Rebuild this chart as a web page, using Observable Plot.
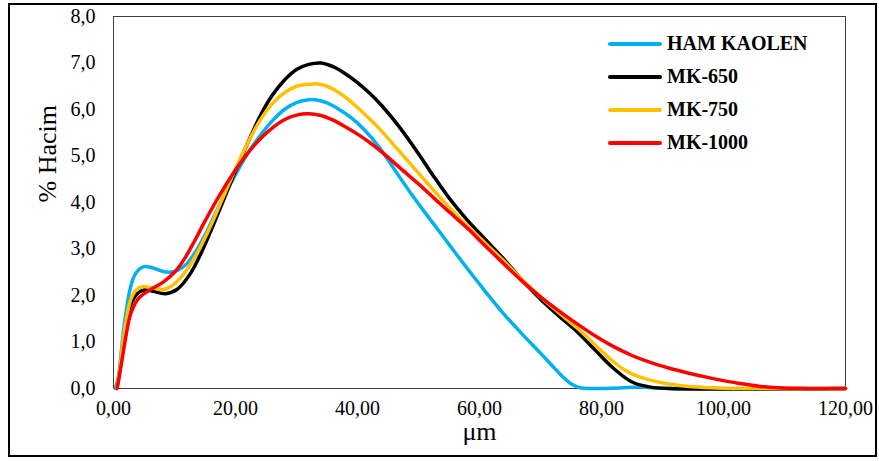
<!DOCTYPE html>
<html><head><meta charset="utf-8">
<script src="https://cdn.jsdelivr.net/npm/d3@7"></script>
<script src="https://cdn.jsdelivr.net/npm/@observablehq/plot@0.6"></script>
<style>
body{margin:0;background:#fff;}
#wrap{position:relative;width:879px;height:461px;font-family:"Liberation Serif","Times New Roman",serif;}
#box{position:absolute;left:8px;top:3px;width:865px;height:450px;border:2.5px solid #000;pointer-events:none;}
#legend{position:absolute;left:608px;top:27px;}
.row{display:flex;align-items:center;height:33px;}
.sw{width:54px;height:4px;border-radius:2px;margin-right:5px;}
.lab{font-weight:bold;font-size:20px;color:#000;font-family:"Liberation Serif","Times New Roman",serif;}
</style></head>
<body>
<div id="wrap"><div id="chart"></div><div id="legend"></div><div id="box"></div></div>
<script>
const seriesNames = ["HAM KAOLEN", "MK-650", "MK-750", "MK-1000"];
const seriesColors = ["#00B0F0", "#000000", "#FFC000", "#FF0000"];
const xTicks = [0, 20, 40, 60, 80, 100, 120];
const yTicks = [0, 1, 2, 3, 4, 5, 6, 7, 8];
const xLabel = "μm";
const yLabel = "% Hacim";

const hamX = [0.3, 0.8, 1.2, 1.7, 2.3, 2.8, 3.6, 5, 6.5, 8, 9.2, 10.5, 12, 13.5, 15, 17.5, 20, 22, 24, 26, 28, 30, 32, 33.5, 35, 37, 39, 41, 43.5, 46, 49, 52, 55, 58, 61, 64, 67, 70, 72, 73.5, 75, 76.5, 78, 83, 86, 89, 92, 120];
const hamY = [0, 0.25, 0.7, 1.3, 1.85, 2.18, 2.47, 2.62, 2.59, 2.52, 2.5, 2.54, 2.68, 2.95, 3.3, 3.98, 4.6, 5.05, 5.43, 5.75, 6.0, 6.15, 6.21, 6.2, 6.14, 6.0, 5.82, 5.58, 5.2, 4.72, 4.15, 3.62, 3.1, 2.58, 2.08, 1.6, 1.17, 0.76, 0.48, 0.27, 0.1, 0.015, 0, 0.01, 0.03, 0.01, 0, 0];

const mk650X = [0.5, 1, 1.5, 2, 2.8, 3.9, 5, 6.5, 8.5, 10.4, 12.6, 14.8, 17, 18.5, 20, 22, 24, 26, 28, 30, 32, 34, 36, 38, 40, 42, 44, 47, 50, 52.5, 55, 58, 61, 64, 67, 70, 73, 76, 79, 82, 85, 88, 91, 120];
const mk650Y = [0, 0.35, 0.85, 1.3, 1.8, 2.04, 2.12, 2.09, 2.04, 2.13, 2.47, 3.04, 3.72, 4.2, 4.68, 5.28, 5.85, 6.3, 6.63, 6.86, 6.97, 7.0, 6.92, 6.77, 6.58, 6.35, 6.08, 5.6, 5.05, 4.56, 4.1, 3.62, 3.2, 2.78, 2.33, 1.92, 1.56, 1.22, 0.82, 0.43, 0.14, 0.03, 0, 0];

const mk750X = [0.5, 1, 1.5, 2, 2.8, 3.7, 4.7, 6.5, 8.25, 10, 12, 14, 16, 18, 20, 22, 24, 26, 28, 30, 32, 33.5, 35, 37, 39, 41, 43.5, 47, 50, 52.5, 55, 58, 61, 64, 67, 70, 73, 76, 79, 82, 84, 86, 90, 94, 98, 102, 120];
const mk750Y = [0, 0.4, 0.95, 1.4, 1.9, 2.12, 2.19, 2.16, 2.13, 2.25, 2.55, 2.98, 3.52, 4.12, 4.72, 5.28, 5.76, 6.12, 6.36, 6.5, 6.54, 6.55, 6.5, 6.36, 6.16, 5.92, 5.6, 5.08, 4.63, 4.26, 3.9, 3.5, 3.12, 2.74, 2.34, 1.97, 1.63, 1.3, 0.93, 0.57, 0.38, 0.26, 0.12, 0.05, 0.015, 0, 0];

const mk1000X = [0.6, 1, 1.5, 2, 2.8, 4, 5, 6.5, 8.25, 10, 11.5, 13.2, 15, 17.5, 20, 22, 24, 26, 28, 30, 32, 34, 36, 38, 40, 42, 44.5, 47, 50, 52.5, 55, 58, 61, 64, 67, 70, 73, 76, 79, 82, 85, 88, 91, 94, 97, 100, 103, 106, 109, 112, 115, 120];
const mk1000Y = [0, 0.3, 0.7, 1.1, 1.6, 1.92, 2.04, 2.16, 2.3, 2.5, 2.76, 3.15, 3.6, 4.18, 4.7, 5.06, 5.36, 5.6, 5.78, 5.88, 5.91, 5.87, 5.77, 5.63, 5.47, 5.29, 5.03, 4.74, 4.4, 4.1, 3.8, 3.45, 3.06, 2.68, 2.31, 1.97, 1.67, 1.39, 1.13, 0.9, 0.71, 0.56, 0.44, 0.34, 0.25, 0.17, 0.1, 0.045, 0.015, 0.003, 0, 0];

const xs = [hamX, mk650X, mk750X, mk1000X];
const ys = [hamY, mk650Y, mk750Y, mk1000Y];
const rows = [];
seriesNames.forEach((name, i) => {
  xs[i].forEach((x, j) => rows.push({series: name, x, y: ys[i][j]}));
});

const comma = (f) => (d) => d3.format(f)(d).replace(".", ",");
const serif = "'Liberation Serif', 'Times New Roman', serif";

const chart = Plot.plot({
  width: 879,
  height: 461,
  marginLeft: 113,
  marginRight: 34,
  marginTop: 16,
  marginBottom: 73,
  style: {fontFamily: serif, fontSize: "20px", color: "#000", background: "transparent"},
  x: {domain: [0, 120]},
  y: {domain: [0, 8]},
  color: {domain: seriesNames, range: seriesColors},
  marks: [
    Plot.axisX({ticks: xTicks, tickFormat: comma(".2f"), tickSize: 0, tickPadding: 12, fontSize: 20, label: null}),
    Plot.axisY({ticks: yTicks, tickFormat: comma(".1f"), tickSize: 0, tickPadding: 18, fontSize: 20, label: null}),
    Plot.text([xLabel], {frameAnchor: "bottom", dy: 51, fontSize: 26, fill: "#000"}),
    Plot.text([yLabel], {frameAnchor: "left", rotate: -90, dx: -66, fontSize: 26, fill: "#000"}),
    Plot.frame({stroke: "#404040", strokeWidth: 1}),
    Plot.line(rows, {x: "x", y: "y", z: "series", stroke: "series", strokeWidth: 3.5, curve: "catmull-rom"})
  ]
});
document.getElementById("chart").appendChild(chart);

const legend = document.getElementById("legend");
seriesNames.forEach((name, i) => {
  const r = document.createElement("div");
  r.className = "row";
  const sw = document.createElement("div");
  sw.className = "sw";
  sw.style.background = seriesColors[i];
  const lb = document.createElement("span");
  lb.className = "lab";
  lb.textContent = name;
  r.appendChild(sw); r.appendChild(lb);
  legend.appendChild(r);
});
</script>
</body></html>
